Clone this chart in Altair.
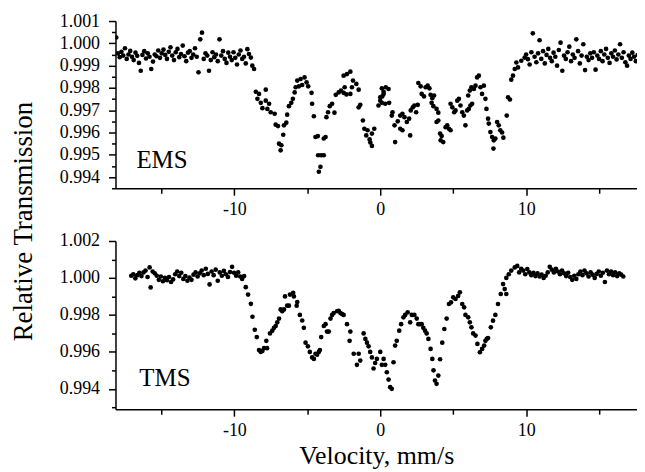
import altair as alt
import pandas as pd

# ---------------- data (velocity mm/s, relative transmission) ----------------
ems_left = [
    (-18.10, 1.00026), (-17.98, 0.99955), (-17.86, 0.99938), (-17.74, 0.99962), (-17.62, 0.99945),
    (-17.50, 0.99978), (-17.38, 0.99930), (-17.26, 0.99950), (-17.14, 0.99966), (-17.02, 0.99940),
    (-16.90, 0.99925), (-16.78, 0.99958), (-16.66, 0.99944), (-16.54, 0.99912), (-16.42, 0.99877),
    (-16.30, 0.99948), (-16.18, 0.99965), (-16.06, 0.99932), (-15.94, 0.99955), (-15.82, 0.99940),
    (-15.70, 0.99885), (-15.58, 0.99918), (-15.46, 0.99950), (-15.34, 0.99942), (-15.22, 0.99968),
    (-15.10, 0.99935), (-14.98, 0.99955), (-14.86, 0.99972), (-14.74, 0.99948), (-14.62, 0.99930),
    (-14.50, 0.99962), (-14.38, 0.99982), (-14.26, 0.99945), (-14.14, 0.99925), (-14.02, 0.99960),
    (-13.90, 0.99975), (-13.78, 0.99938), (-13.66, 0.99952), (-13.54, 0.99990), (-13.42, 0.99942),
    (-13.30, 0.99920), (-13.18, 0.99958), (-13.06, 0.99965), (-12.94, 0.99935), (-12.82, 0.99950),
    (-12.70, 0.99978), (-12.58, 0.99940), (-12.46, 0.99870), (-12.34, 1.00018), (-12.22, 1.00048),
    (-12.10, 0.99930), (-11.98, 0.99955), (-11.86, 0.99945), (-11.74, 0.99877), (-11.62, 0.99925),
    (-11.50, 0.99960), (-11.38, 0.99938), (-11.26, 0.99950), (-11.14, 0.99920), (-11.02, 1.00018),
    (-10.90, 0.99945), (-10.78, 0.99965), (-10.66, 0.99930), (-10.54, 0.99912), (-10.42, 0.99958),
    (-10.30, 0.99940), (-10.18, 0.99925), (-10.06, 0.99960), (-9.94, 0.99935), (-9.82, 0.99905),
    (-9.70, 0.99950), (-9.58, 0.99968), (-9.46, 0.99930), (-9.34, 0.99940), (-9.22, 0.99910),
    (-9.11, 0.99974), (-9.00, 0.99952), (-8.87, 0.99936), (-8.77, 0.99900), (-8.65, 0.99885),
]

ems_middle = [
    (-8.53, 0.99783), (-8.42, 0.99751), (-8.31, 0.99773), (-8.19, 0.99733), (-8.08, 0.99709),
    (-7.85, 0.99792), (-7.85, 0.99743), (-7.74, 0.99706), (-7.62, 0.99729), (-7.51, 0.99691),
    (-7.24, 0.99684), (-7.17, 0.99635), (-7.01, 0.99629), (-6.94, 0.99550), (-6.83, 0.99520),
    (-6.78, 0.99543), (-6.65, 0.99590), (-6.60, 0.99632), (-6.44, 0.99644), (-6.38, 0.99680),
    (-6.26, 0.99718), (-6.10, 0.99733), (-5.99, 0.99751), (-5.87, 0.99780), (-5.80, 0.99803),
    (-5.69, 0.99833), (-5.58, 0.99807), (-5.46, 0.99840), (-5.35, 0.99813), (-5.19, 0.99847),
    (-5.05, 0.99825), (-4.94, 0.99807), (-4.71, 0.99778), (-4.67, 0.99729), (-4.55, 0.99673),
    (-4.44, 0.99580), (-4.28, 0.99584), (-4.26, 0.99498), (-4.21, 0.99424), (-4.10, 0.99446),
    (-4.05, 0.99498), (-3.87, 0.99498), (-3.87, 0.99573), (-3.75, 0.99580), (-3.69, 0.99669),
    (-3.58, 0.99691), (-3.46, 0.99718), (-3.30, 0.99729), (-3.14, 0.99689), (-3.05, 0.99769),
    (-2.85, 0.99780), (-2.69, 0.99788), (-2.51, 0.99778), (-2.51, 0.99855), (-2.44, 0.99803),
    (-2.32, 0.99771), (-2.28, 0.99862), (-2.05, 0.99773), (-2.05, 0.99873), (-1.94, 0.99803),
    (-1.87, 0.99833), (-1.64, 0.99818), (-1.48, 0.99792), (-1.48, 0.99713), (-1.37, 0.99724),
    (-1.19, 0.99654), (-1.09, 0.99617), (-0.96, 0.99587), (-0.87, 0.99610), (-0.73, 0.99569),
    (-0.68, 0.99555), (-0.57, 0.99595), (-0.57, 0.99540), (-0.41, 0.99617), (-0.12, 0.99721),
    (0.00, 0.99743), (0.00, 0.99758), (0.11, 0.99798), (0.11, 0.99733), (0.14, 0.99762),
    (0.23, 0.99783), (0.23, 0.99773), (0.34, 0.99729), (0.38, 0.99803), (0.57, 0.99795),
    (0.61, 0.99733), (0.79, 0.99676), (0.84, 0.99691), (0.98, 0.99632), (1.02, 0.99557),
    (1.20, 0.99650), (1.37, 0.99676), (1.37, 0.99617), (1.52, 0.99684), (1.52, 0.99610),
    (1.66, 0.99669), (1.82, 0.99647), (1.98, 0.99662), (2.05, 0.99587), (2.09, 0.99699),
    (2.23, 0.99713), (2.34, 0.99721), (2.46, 0.99691), (2.57, 0.99724), (2.61, 0.99822),
    (2.77, 0.99807), (2.84, 0.99773), (3.00, 0.99762), (3.11, 0.99803), (3.25, 0.99810),
    (3.37, 0.99798), (3.45, 0.99769), (3.52, 0.99733), (3.57, 0.99754), (3.64, 0.99718),
    (3.69, 0.99766), (3.86, 0.99706), (3.86, 0.99647), (3.98, 0.99689), (3.98, 0.99654),
    (4.10, 0.99595), (4.14, 0.99565), (4.21, 0.99584), (4.32, 0.99557), (4.48, 0.99624),
    (4.59, 0.99632), (4.71, 0.99617), (4.82, 0.99610), (4.82, 0.99729), (4.94, 0.99713),
    (5.07, 0.99691), (5.16, 0.99699), (5.28, 0.99743), (5.39, 0.99751), (5.50, 0.99721),
    (5.62, 0.99691), (5.73, 0.99676), (5.84, 0.99632), (5.96, 0.99699), (6.03, 0.99766),
    (6.07, 0.99706), (6.14, 0.99788), (6.18, 0.99721), (6.25, 0.99803), (6.30, 0.99729),
    (6.42, 0.99795), (6.53, 0.99810), (6.64, 0.99847), (6.76, 0.99855), (6.87, 0.99803),
    (6.98, 0.99773), (7.10, 0.99810), (7.21, 0.99751), (7.28, 0.99706), (7.39, 0.99662),
    (7.44, 0.99640), (7.55, 0.99602), (7.67, 0.99580), (7.76, 0.99528), (7.78, 0.99565),
    (7.89, 0.99573), (8.01, 0.99647), (8.12, 0.99632), (8.23, 0.99610), (8.35, 0.99600),
    (8.44, 0.99577), (8.67, 0.99676), (8.76, 0.99758), (8.89, 0.99748), (8.98, 0.99837),
    (9.10, 0.99855), (9.22, 0.99885), (9.33, 0.99914), (9.44, 0.99892), (9.67, 0.99922),
    (9.90, 0.99936),
]

ems_right = [
    (10.00, 0.99950), (10.12, 0.99929), (10.24, 0.99905), (10.36, 0.99960), (10.46, 1.00045),
    (10.58, 0.99940), (10.70, 0.99915), (10.82, 0.99955), (10.92, 1.00014), (11.04, 0.99930),
    (11.16, 0.99965), (11.28, 0.99910), (11.40, 0.99948), (11.52, 0.99975), (11.64, 0.99935),
    (11.76, 0.99920), (11.88, 0.99958), (12.00, 0.99940), (12.12, 0.99900), (12.24, 0.99970),
    (12.36, 1.00003), (12.48, 0.99877), (12.60, 0.99945), (12.72, 0.99930), (12.84, 0.99960),
    (12.96, 0.99985), (13.08, 0.99920), (13.20, 0.99950), (13.32, 0.99935), (13.44, 1.00018),
    (13.56, 0.99965), (13.68, 0.99910), (13.80, 0.99945), (13.92, 0.99996), (14.04, 0.99880),
    (14.16, 0.99940), (14.28, 0.99925), (14.40, 0.99955), (14.52, 0.99935), (14.64, 0.99960),
    (14.76, 0.99882), (14.88, 0.99945), (15.00, 0.99930), (15.12, 0.99965), (15.24, 0.99920),
    (15.36, 0.99950), (15.48, 0.99975), (15.60, 0.99935), (15.72, 0.99912), (15.84, 0.99955),
    (15.96, 0.99940), (16.08, 0.99968), (16.20, 0.99928), (16.32, 0.99950), (16.44, 0.99996),
    (16.56, 0.99935), (16.68, 0.99960), (16.80, 0.99915), (16.92, 0.99900), (17.04, 0.99945),
    (17.16, 0.99930), (17.28, 0.99958), (17.40, 0.99940), (17.52, 0.99920), (17.64, 0.99948),
    (17.76, 0.99932), (17.88, 0.99940),
]

tms_left = [
    (-17.07, 1.00012), (-16.93, 1.00020), (-16.79, 0.99998), (-16.65, 1.00015), (-16.51, 1.00028),
    (-16.37, 1.00010), (-16.23, 1.00030), (-16.09, 1.00040), (-15.95, 1.00005), (-15.81, 1.00057),
    (-15.74, 0.99949), (-15.60, 1.00035), (-15.46, 1.00025), (-15.32, 1.00012), (-15.18, 0.99990),
    (-15.04, 1.00008), (-14.90, 0.99982), (-14.76, 1.00000), (-14.62, 0.99988), (-14.48, 1.00005),
    (-14.34, 0.99978), (-14.20, 0.99992), (-14.06, 1.00020), (-13.92, 1.00035), (-13.78, 1.00010),
    (-13.64, 1.00028), (-13.50, 0.99995), (-13.36, 1.00010), (-13.22, 0.99985), (-13.08, 1.00002),
    (-12.94, 0.99990), (-12.80, 1.00018), (-12.66, 1.00030), (-12.52, 1.00008), (-12.38, 1.00025),
    (-12.24, 1.00040), (-12.10, 1.00015), (-11.96, 1.00050), (-11.82, 1.00022), (-11.70, 0.99965),
    (-11.56, 1.00035), (-11.42, 1.00015), (-11.28, 1.00045), (-11.14, 0.99985), (-11.00, 1.00030),
    (-10.86, 1.00012), (-10.72, 1.00038), (-10.58, 1.00020), (-10.44, 1.00005), (-10.30, 1.00032),
    (-10.16, 1.00060), (-10.02, 1.00028), (-9.88, 1.00012), (-9.74, 1.00030), (-9.60, 1.00008),
    (-9.47, 0.99995),
]

tms_middle = [
    (-9.33, 1.00010), (-9.22, 0.99950), (-9.06, 0.99910), (-8.87, 0.99860), (-8.76, 0.99790),
    (-8.60, 0.99720), (-8.46, 0.99680), (-8.31, 0.99610), (-8.19, 0.99600), (-8.08, 0.99605),
    (-7.97, 0.99620), (-7.81, 0.99660), (-7.76, 0.99620), (-7.56, 0.99700), (-7.40, 0.99715),
    (-7.28, 0.99730), (-7.17, 0.99740), (-7.06, 0.99760), (-6.94, 0.99780), (-6.83, 0.99830),
    (-6.72, 0.99820), (-6.60, 0.99830), (-6.53, 0.99900), (-6.38, 0.99850), (-6.26, 0.99850),
    (-6.19, 0.99910), (-5.97, 0.99920), (-5.92, 0.99900), (-5.73, 0.99850), (-5.69, 0.99870),
    (-5.51, 0.99800), (-5.35, 0.99770), (-5.24, 0.99730), (-5.12, 0.99650), (-4.96, 0.99630),
    (-4.83, 0.99600), (-4.67, 0.99570), (-4.55, 0.99562), (-4.44, 0.99590), (-4.33, 0.99585),
    (-4.21, 0.99600), (-4.14, 0.99610), (-4.05, 0.99680), (-3.87, 0.99740), (-3.75, 0.99750),
    (-3.65, 0.99710), (-3.53, 0.99710), (-3.41, 0.99780), (-3.30, 0.99800), (-3.19, 0.99810),
    (-2.96, 0.99820), (-2.85, 0.99822), (-2.73, 0.99810), (-2.62, 0.99805), (-2.51, 0.99800),
    (-2.28, 0.99750), (-2.10, 0.99660), (-2.05, 0.99710), (-1.82, 0.99590), (-1.60, 0.99530),
    (-1.48, 0.99590), (-1.37, 0.99553), (-1.14, 0.99700), (-1.02, 0.99670), (-0.91, 0.99650),
    (-0.80, 0.99630), (-0.69, 0.99600), (-0.57, 0.99570), (-0.46, 0.99510), (-0.35, 0.99540),
    (-0.23, 0.99562), (0.00, 0.99600), (0.11, 0.99530), (0.23, 0.99562), (0.34, 0.99530),
    (0.45, 0.99490), (0.57, 0.99450), (0.68, 0.99409), (0.79, 0.99400), (0.91, 0.99544),
    (1.02, 0.99634), (1.13, 0.99660), (1.30, 0.99715), (1.43, 0.99750), (1.59, 0.99787),
    (1.71, 0.99800), (1.88, 0.99814), (2.05, 0.99760), (2.16, 0.99800), (2.34, 0.99800),
    (2.50, 0.99780), (2.61, 0.99750), (2.72, 0.99750), (2.84, 0.99750), (2.95, 0.99730),
    (3.07, 0.99715), (3.18, 0.99700), (3.30, 0.99670), (3.45, 0.99616), (3.57, 0.99562),
    (3.65, 0.99500), (3.75, 0.99445), (3.86, 0.99427), (3.98, 0.99472), (4.10, 0.99560),
    (4.25, 0.99650), (4.39, 0.99724), (4.55, 0.99780), (4.71, 0.99859), (4.85, 0.99868),
    (5.00, 0.99895), (5.16, 0.99886), (5.34, 0.99903), (5.46, 0.99922), (5.62, 0.99859),
    (5.75, 0.99841), (5.84, 0.99800), (6.03, 0.99787), (6.14, 0.99760), (6.25, 0.99733),
    (6.37, 0.99700), (6.53, 0.99688), (6.66, 0.99643), (6.83, 0.99598), (6.98, 0.99616),
    (7.12, 0.99634), (7.21, 0.99660), (7.30, 0.99670), (7.39, 0.99675), (7.58, 0.99733),
    (7.73, 0.99769), (7.89, 0.99800), (8.07, 0.99859), (8.26, 0.99913), (8.42, 0.99967),
    (8.53, 0.99940), (8.64, 0.99913), (8.64, 1.00000), (8.81, 1.00020), (8.98, 1.00040),
    (9.22, 1.00057), (9.39, 1.00065),
]

tms_right = [
    (9.52, 1.00030), (9.66, 1.00050), (9.80, 1.00040), (9.94, 1.00020), (10.08, 1.00048),
    (10.22, 1.00030), (10.36, 1.00015), (10.50, 1.00028), (10.64, 1.00010), (10.78, 1.00025),
    (10.92, 1.00008), (11.06, 1.00018), (11.20, 1.00000), (11.34, 1.00012), (11.48, 1.00030),
    (11.62, 1.00060), (11.76, 1.00045), (11.90, 1.00030), (12.04, 1.00050), (12.18, 1.00035),
    (12.32, 1.00020), (12.46, 1.00040), (12.60, 1.00025), (12.74, 1.00010), (12.88, 1.00028),
    (13.02, 1.00005), (13.16, 0.99990), (13.30, 1.00012), (13.44, 0.99995), (13.58, 1.00020),
    (13.72, 1.00035), (13.86, 1.00015), (14.00, 1.00040), (14.14, 1.00025), (14.28, 1.00008),
    (14.42, 1.00030), (14.56, 1.00018), (14.70, 1.00000), (14.84, 1.00022), (14.98, 1.00035),
    (15.12, 1.00012), (15.26, 1.00028), (15.40, 0.99978), (15.54, 1.00040), (15.68, 1.00020),
    (15.82, 1.00035), (15.96, 1.00015), (16.10, 1.00030), (16.24, 1.00010), (16.38, 1.00025),
    (16.52, 1.00018), (16.66, 1.00008),
]

x_domain = [-18.15, 17.6]
x_major_ticks = [-10, 0, 10]
x_minor_ticks = [-15, -5, 5, 15]
ems_y_domain = [0.9935, 1.001]
ems_y_major = [0.994, 0.995, 0.996, 0.997, 0.998, 0.999, 1.000, 1.001]
ems_y_minor = [0.9935, 0.9945, 0.9955, 0.9965, 0.9975, 0.9985, 0.9995, 1.0005]
tms_y_domain = [0.9929, 1.002]
tms_y_major = [0.994, 0.996, 0.998, 1.000, 1.002]
tms_y_minor = [0.993, 0.995, 0.997, 0.999, 1.001]
y_title = "Relative Transmission"
x_title = "Velocity, mm/s"
ems_label = ["EMS"]
tms_label = ["TMS"]

FONT = "Liberation Serif"
W = 524


def frame(*segments):
    rows = [p for seg in segments for p in seg]
    return pd.DataFrame(rows, columns=["velocity", "transmission"])


def panel(df, y_domain, y_major, y_minor, label, height, label_x, label_y,
          show_y_title, show_x_title):
    xs = alt.Scale(domain=x_domain, nice=False, zero=False)
    ys = alt.Scale(domain=y_domain, nice=False, zero=False)

    x_kwargs = dict(orient="bottom", values=x_major_ticks, labelExpr="'' + datum.value",
                    tickSize=7, labelPadding=5, grid=False)
    if show_x_title:
        x_kwargs.update(title=x_title, titleY=55, titleBaseline="alphabetic",
                        titleFontSize=26)
    else:
        x_kwargs.update(title=None)
    y_kwargs = dict(orient="left", values=y_major, format=".3f", tickSize=7,
                    labelPadding=9, grid=False)
    if show_y_title:
        y_kwargs.update(title=y_title, titleX=-84, titleY=201, titleAngle=-90,
                        titleBaseline="alphabetic", titleAlign="center")
    else:
        y_kwargs.update(title=None)

    base = alt.Chart(df)
    pts = base.mark_circle(size=22, color="black", opacity=1, clip=True).encode(
        x=alt.X("velocity:Q", scale=xs, axis=alt.Axis(**x_kwargs)),
        y=alt.Y("transmission:Q", scale=ys, axis=alt.Axis(**y_kwargs)),
    )
    minor = base.mark_circle(size=1, opacity=0, clip=True).encode(
        x=alt.X("velocity:Q", scale=xs,
                axis=alt.Axis(orient="bottom", values=x_minor_ticks, labels=False,
                              domain=False, tickSize=5, title=None, grid=False)),
        y=alt.Y("transmission:Q", scale=ys,
                axis=alt.Axis(orient="left", values=y_minor, labels=False,
                              domain=False, tickSize=4, title=None, grid=False)),
    )
    txt = alt.Chart(pd.DataFrame({"name": label})).mark_text(
        font=FONT, fontSize=25, align="left", baseline="alphabetic", color="black"
    ).encode(x=alt.value(label_x), y=alt.value(label_y), text="name:N")

    return (
        alt.layer(pts, minor, txt)
        .resolve_axis(x="independent", y="independent")
        .properties(width=W, height=height)
    )


top = panel(frame(ems_left, ems_middle, ems_right), ems_y_domain, ems_y_major,
            ems_y_minor, ems_label, 168, 21, 148, True, False)
bottom = panel(frame(tms_left, tms_middle, tms_right), tms_y_domain, tms_y_major,
               tms_y_minor, tms_label, 169, 24, 146, False, True)

chart = (
    alt.vconcat(top, bottom, spacing=53, bounds="flush")
    .properties(padding={"left": 2, "top": 3, "right": 0, "bottom": 0})
    .configure_axis(
        labelFont=FONT, labelFontSize=18, labelColor="black",
        tickColor="black", domainColor="black", tickWidth=1.5, domainWidth=1.5,
        titleFont=FONT, titleFontSize=27, titleFontWeight="normal", titleColor="black",
    )
    .configure_view(stroke=None)
)

chart.save("out.html", embed_options={"renderer": "svg", "actions": False})
